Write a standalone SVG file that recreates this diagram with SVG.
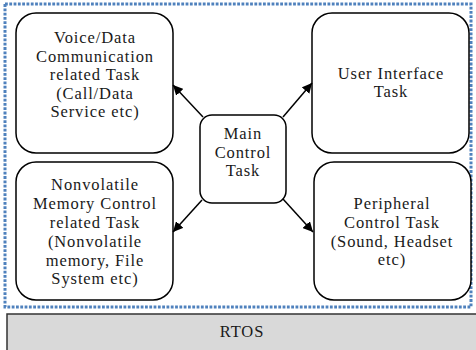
<svg xmlns="http://www.w3.org/2000/svg" width="476" height="350" viewBox="0 0 476 350">
<defs>
<marker id="ah" viewBox="0 0 10 10" refX="10" refY="5" markerWidth="10" markerHeight="10" markerUnits="userSpaceOnUse" orient="auto">
<path d="M0,0 L10,5 L0,10 z" fill="#000"/>
</marker>
</defs>
<style>
.box{fill:#fff;stroke:#000;stroke-width:1.5}
text{font-family:'Liberation Serif',serif;font-size:16.5px;letter-spacing:0.9px;text-anchor:middle;fill:#1a1a1a}
.conn{stroke:#000;stroke-width:1.5;fill:none;marker-end:url(#ah)}
</style>
<rect width="476" height="350" fill="#fff"/>
<g id="rtos">
<rect x="7" y="314" width="475" height="45" fill="#d9d9d9" stroke="#333" stroke-width="1.5"/>
<text x="242" y="337">RTOS</text>
</g>
<g id="frame">
<rect x="5" y="4" width="466" height="303" fill="none" stroke="#4f81bd" stroke-width="3" stroke-dasharray="2.8 1.5"/>
</g>
<g id="voice">
<rect class="box" x="16" y="13" width="157" height="140" rx="20"/>
<text x="95" y="43">Voice/Data</text>
<text x="95" y="62">Communication</text>
<text x="95" y="80">related Task</text>
<text x="95" y="99">(Call/Data</text>
<text x="95" y="117">Service etc)</text>
</g>
<g id="ui">
<rect class="box" x="312" y="13" width="157" height="140" rx="20"/>
<text x="391" y="79">User Interface</text>
<text x="391" y="97">Task</text>
</g>
<g id="nvm">
<rect class="box" x="16" y="162" width="157" height="138" rx="20"/>
<text x="95" y="190">Nonvolatile</text>
<text x="95" y="209">Memory Control</text>
<text x="95" y="228">related Task</text>
<text x="95" y="247">(Nonvolatile</text>
<text x="95" y="266">memory, File</text>
<text x="95" y="284">System etc)</text>
</g>
<g id="periph">
<rect class="box" x="314" y="162" width="157" height="138" rx="20"/>
<text x="392" y="209">Peripheral</text>
<text x="392" y="228">Control Task</text>
<text x="392" y="247">(Sound, Headset</text>
<text x="392" y="265">etc)</text>
</g>
<g id="main">
<rect class="box" x="200" y="115" width="86" height="88" rx="12"/>
<text x="243" y="139">Main</text>
<text x="243" y="158">Control</text>
<text x="243" y="176">Task</text>
</g>
<g id="connectors">
<line class="conn" x1="203" y1="117" x2="173" y2="85"/>
<line class="conn" x1="283" y1="117" x2="312" y2="83"/>
<line class="conn" x1="202" y1="200" x2="173" y2="232"/>
<line class="conn" x1="283" y1="199" x2="313" y2="232"/>
</g>
</svg>
